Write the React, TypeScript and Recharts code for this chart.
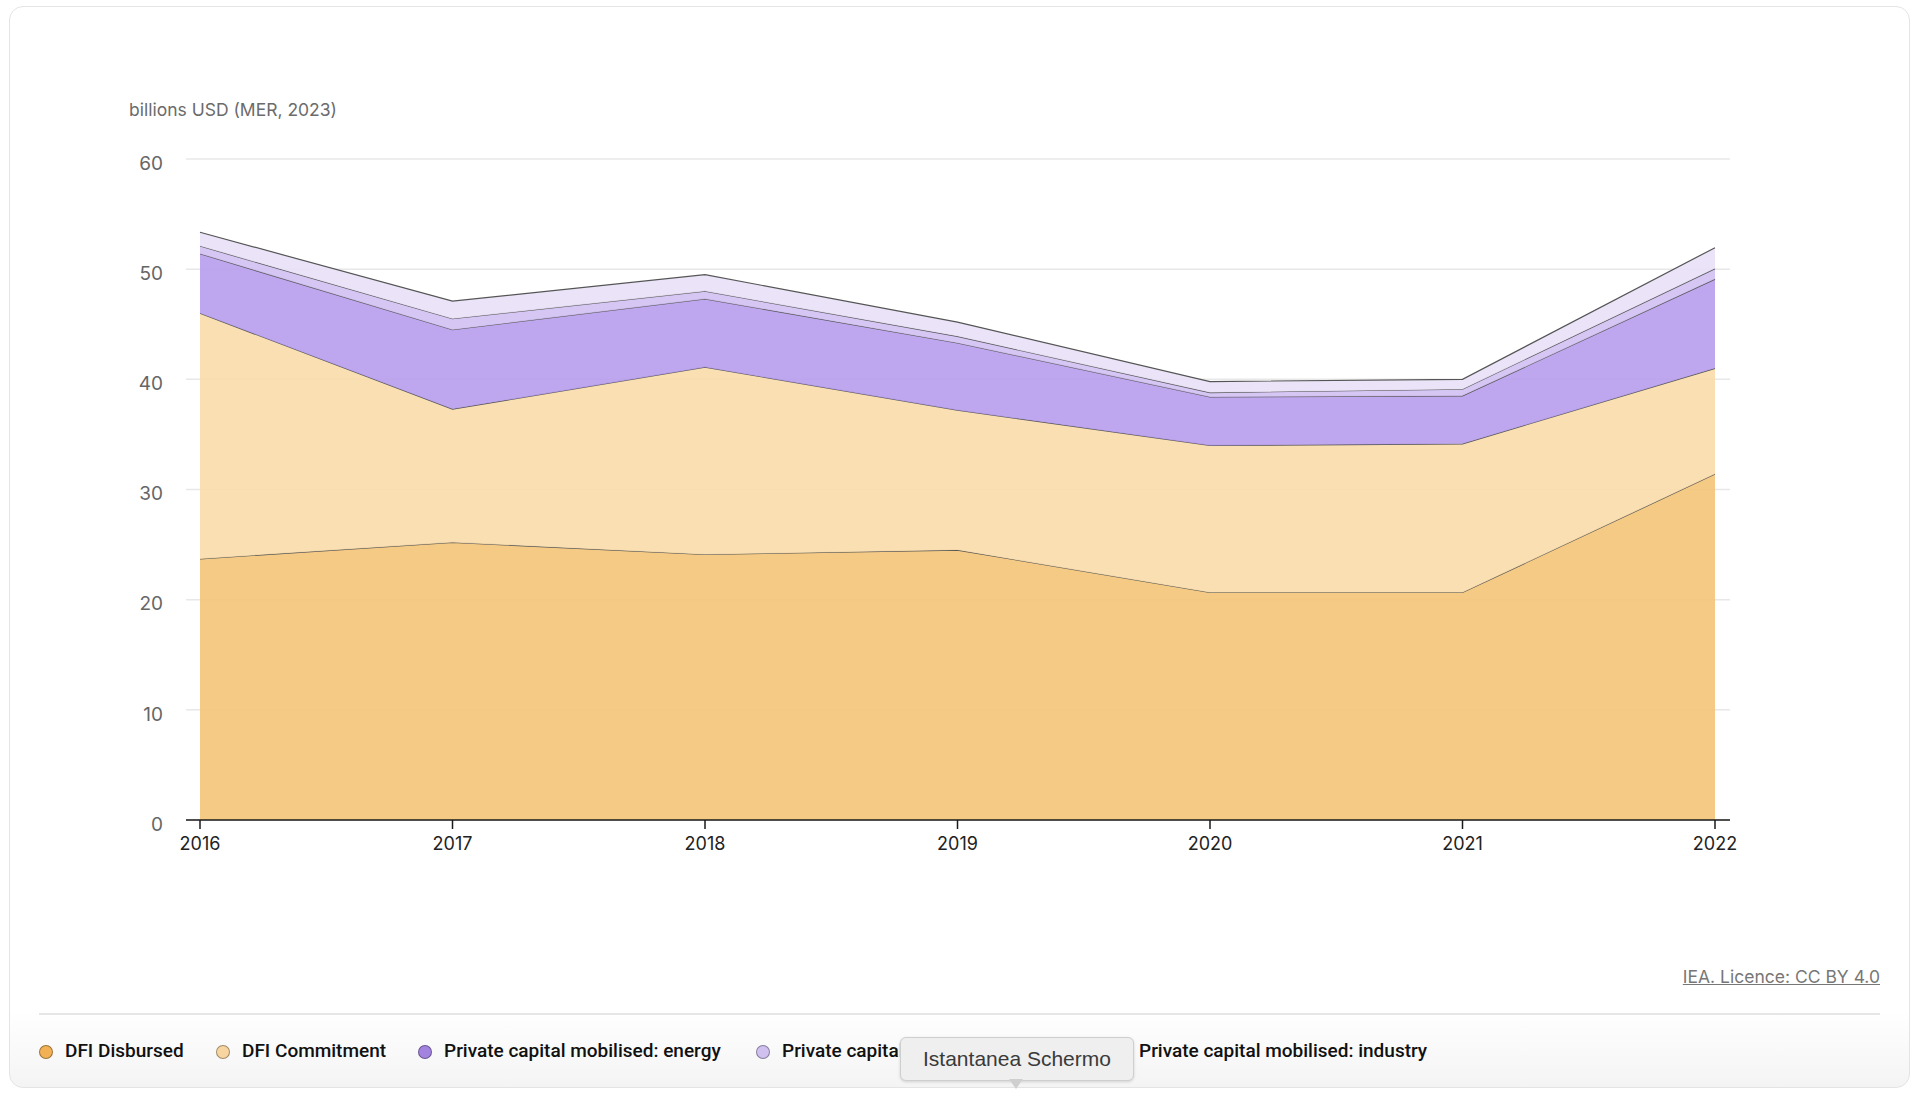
import { AreaChart, Area, XAxis, YAxis, CartesianGrid } from "recharts";

const years = ["2016", "2017", "2018", "2019", "2020", "2021", "2022"];
const dfiDisbursed = [23.7, 25.2, 24.1, 24.5, 20.65, 20.65, 31.4];
const dfiCommitment = [22.3, 12.1, 17.0, 12.7, 13.35, 13.5, 9.6];
const privEnergy = [5.4, 7.2, 6.2, 6.1, 4.4, 4.35, 8.1];
const privTransport = [0.7, 1.0, 0.7, 0.6, 0.4, 0.6, 0.95];
const privIndustry = [1.25, 1.6, 1.5, 1.3, 1.0, 0.9, 1.9];
const yTicks = [0, 10, 20, 30, 40, 50, 60];

const SERIES = [
    { key: "disbursed", name: "DFI Disbursed", fill: "#f4c478", dot: "#f2b155", left: 46 },
    { key: "commitment", name: "DFI Commitment", fill: "#f8dba9", dot: "#f8d5a0", left: 223 },
    { key: "energy", name: "Private capital mobilised: energy", fill: "#b79dec", dot: "#a383e0", left: 425 },
    { key: "transport", name: "Private capital mobilised: transport", fill: "#d0c0f3", dot: "#cfc0f0", left: 763 },
    { key: "industry", name: "Private capital mobilised: industry", fill: "#e9e1f7", dot: "#e6dcf8", left: 1120 },
];

const data = years.map((year, i) => ({
    year,
    disbursed: dfiDisbursed[i],
    commitment: dfiCommitment[i],
    energy: privEnergy[i],
    transport: privTransport[i],
    industry: privIndustry[i],
}));

const FONT = "Inter, 'Noto Sans', sans-serif";

export default function App() {
    return (
        <div
            style={{
                position: "fixed",
                left: 0,
                top: 0,
                width: 1920,
                height: 1093,
                background: "#ffffff",
                fontFamily: FONT,
                overflow: "hidden",
            }}
        >
            {/* card */}
            <div
                style={{
                    position: "absolute",
                    left: 9,
                    top: 6,
                    width: 1899,
                    height: 1080,
                    border: "1.5px solid #e4e4e4",
                    borderRadius: 14,
                    background: "linear-gradient(to bottom, #ffffff 0%, #ffffff 93%, #f4f4f4 100%)",
                }}
            />

            <div
                style={{
                    position: "absolute",
                    left: 129,
                    top: 99,
                    fontSize: 17.5,
                    color: "#6b6b6b",
                }}
            >
                billions USD (MER, 2023)
            </div>

            <div style={{ position: "absolute", left: 0, top: 0 }}>
                <AreaChart
                    width={1920}
                    height={900}
                    data={data}
                    margin={{ top: 159, right: 190, bottom: 50, left: 0 }}
                >
                    <CartesianGrid vertical={false} stroke="#e8e8e8" strokeWidth={1.5} />
                    <XAxis
                        dataKey="year"
                        padding={{ left: 14, right: 15 }}
                        axisLine={{ stroke: "#1a1a1a", strokeWidth: 1.5 }}
                        tickLine={{ stroke: "#1a1a1a", strokeWidth: 1.5 }}
                        tickSize={9}
                        tickMargin={8}
                        height={30}
                        tick={{ fill: "#222", fontSize: 18, fontFamily: FONT }}
                        interval={0}
                    />
                    <YAxis
                        width={186}
                        domain={[0, 60]}
                        ticks={yTicks}
                        axisLine={false}
                        tickLine={false}
                        tickSize={0}
                        tickMargin={23}
                        tick={{ fill: "#666", fontSize: 19, fontFamily: FONT, dy: 4 }}
                    />
                    {SERIES.map((s) => (
                        <Area
                            key={s.key}
                            type="linear"
                            dataKey={s.key}
                            name={s.name}
                            stackId="1"
                            fill={s.fill}
                            fillOpacity={0.9}
                            stroke="#555"
                            strokeWidth={1.2}
                            isAnimationActive={false}
                            dot={false}
                            activeDot={false}
                        />
                    ))}
                </AreaChart>
            </div>

            <div
                style={{
                    position: "absolute",
                    right: 40,
                    top: 966,
                    fontSize: 17.5,
                    color: "#777",
                    textDecoration: "underline",
                }}
            >
                IEA. Licence: CC BY 4.0
            </div>

            <div
                style={{
                    position: "absolute",
                    left: 39,
                    top: 1013,
                    width: 1841,
                    height: 2,
                    background: "#e6e6e6",
                }}
            />

            {/* legend */}
            {SERIES.map((s) => (
                <div key={s.key}>
                    <div
                        style={{
                            position: "absolute",
                            left: s.left - 7,
                            top: 1045,
                            width: 12,
                            height: 12,
                            borderRadius: "50%",
                            background: s.dot,
                            border: "1px solid rgba(0,0,0,0.35)",
                        }}
                    />
                    <div
                        style={{
                            position: "absolute",
                            left: s.left + 19,
                            top: 1039,
                            fontSize: 19,
                            fontWeight: 500,
                            fontFamily: "Roboto, sans-serif",
                            color: "#111",
                            whiteSpace: "nowrap",
                        }}
                    >
                        {s.name}
                    </div>
                </div>
            ))}

            {/* screenshot tooltip */}
            <div
                style={{
                    position: "absolute",
                    left: 900,
                    top: 1037,
                    width: 232,
                    height: 42,
                    background: "#efefef",
                    border: "1px solid #cfcfcf",
                    borderRadius: 6,
                    boxShadow: "0 1px 3px rgba(0,0,0,0.15)",
                    display: "flex",
                    alignItems: "center",
                    justifyContent: "center",
                    fontFamily: "'Liberation Sans', Arial, sans-serif",
                    fontSize: 21,
                    color: "#3a3a3a",
                }}
            >
                Istantanea Schermo
            </div>
            <div
                style={{
                    position: "absolute",
                    left: 1009,
                    top: 1079,
                    width: 0,
                    height: 0,
                    borderLeft: "7px solid transparent",
                    borderRight: "7px solid transparent",
                    borderTop: "10px solid #cfcfcf",
                }}
            />
        </div>
    );
}
